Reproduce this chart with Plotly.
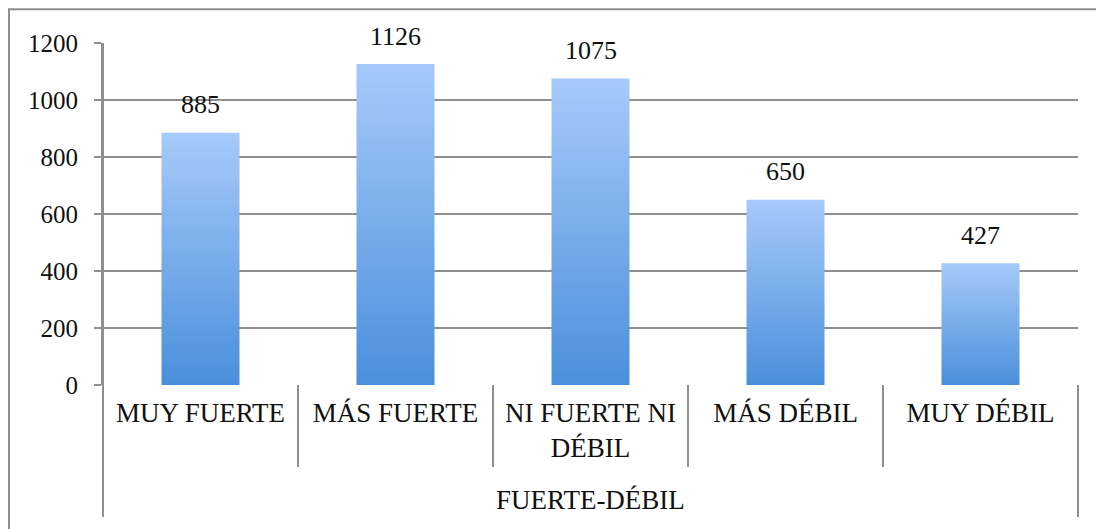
import plotly.graph_objects as go

categories = ["MUY FUERTE", "MÁS FUERTE", "NI FUERTE NI<br>DÉBIL", "MÁS DÉBIL", "MUY DÉBIL"]
values = [885, 1126, 1075, 650, 427]
group_label = "FUERTE-DÉBIL"
y_ticks = [0, 200, 400, 600, 800, 1000, 1200]

FONT = "Liberation Serif, Times New Roman, serif"
GRID = "#8f8f8f"
BAR_W = 0.4
FS = 27

fig = go.Figure()

for i, v in enumerate(values):
    x0, x1 = i - BAR_W / 2, i + BAR_W / 2
    fig.add_trace(go.Scatter(
        x=[x0, x1, x1, x0, x0], y=[0, 0, v, v, 0],
        mode="lines", line=dict(width=0), fill="toself",
        fillgradient=dict(type="vertical",
                          colorscale=[[0, "#4a8fdb"], [1, "#a7cafa"]]),
        hoverinfo="skip", showlegend=False,
    ))
    fig.add_annotation(x=i, y=v, text=str(v), showarrow=False,
                       yanchor="middle", yshift=28,
                       font=dict(family=FONT, size=26, color="#111"))

shapes = []
# category separators
for k in range(6):
    xp = k / 5
    bottom = -0.386 if k in (0, 5) else -0.24
    shapes.append(dict(type="line", xref="paper", yref="paper",
                       x0=xp, x1=xp, y0=0, y1=bottom,
                       line=dict(color=GRID, width=2)))
# y axis line extension
shapes.append(dict(type="line", xref="paper", yref="paper",
                   x0=0, x1=0, y0=1, y1=0, line=dict(color=GRID, width=2)))
# outer frame
shapes.append(dict(type="rect", xref="paper", yref="paper",
                   x0=-0.0964, x1=1.04, y0=-0.45, y1=1.099,
                   line=dict(color=GRID, width=2), fillcolor="rgba(0,0,0,0)",
                   layer="below"))
fig.update_layout(shapes=shapes)

fig.add_annotation(xref="paper", yref="paper", x=0.5, y=-0.337,
                   text=group_label, showarrow=False, yanchor="middle",
                   font=dict(family=FONT, size=FS, color="#111"))

fig.update_xaxes(range=[-0.5, 4.5], tickvals=list(range(len(categories))),
                 ticktext=categories, showgrid=False, zeroline=False,
                 showline=False, ticks="", ticklabelstandoff=9,
                 tickfont=dict(family=FONT, size=FS, color="#111"),
                 fixedrange=True)
fig.update_yaxes(range=[0, 1200], tickvals=y_ticks, showgrid=True,
                 gridcolor=GRID, gridwidth=2, zeroline=False,
                 showline=True, linecolor=GRID, linewidth=2,
                 ticks="outside", ticklen=7, tickcolor=GRID, tickwidth=2,
                 ticklabelstandoff=11,
                 tickfont=dict(family=FONT, size=25, color="#111"))

fig.update_layout(width=1096, height=521,
                  margin=dict(l=95, r=26, t=35, b=144),
                  plot_bgcolor="white", paper_bgcolor="white",
                  showlegend=False)

fig.write_html("out.html")
